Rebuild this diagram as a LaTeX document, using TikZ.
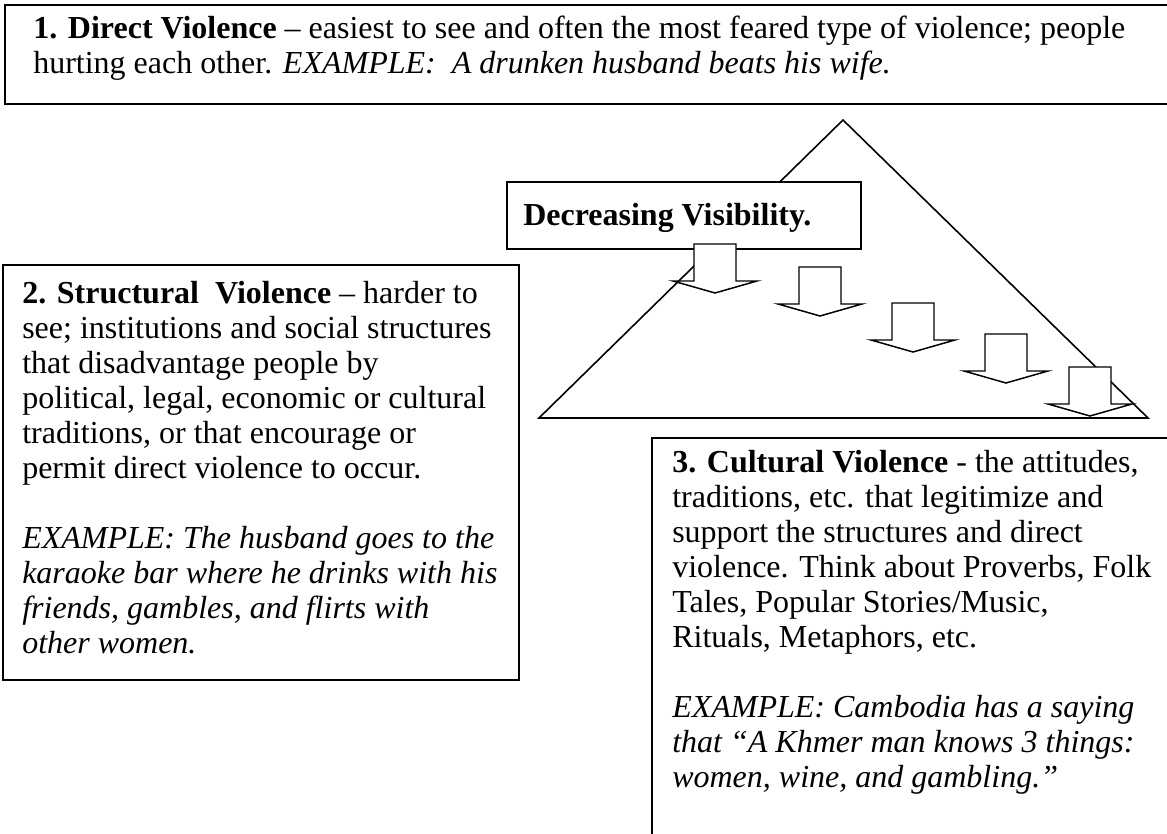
\documentclass[tikz,border=0pt]{standalone}
\usepackage{fontspec}
\setmainfont{Liberation Serif}
\usepackage{tikz}
\usetikzlibrary{positioning}
\tikzset{
  box/.style={draw, line width=1.3pt, fill=white},
  txt/.style={anchor=north west, align=left, inner sep=0pt, font=\fontsize{24}{26.25}\selectfont},
  downarrow/.style={draw, line width=1.1pt, fill=white, line join=miter}
}

\begin{document}
\begin{tikzpicture}[x=0.75pt, y=-0.75pt]
\useasboundingbox (0,0) rectangle (1167,834);
\clip (0,0) rectangle (1167,834);
\draw[box] (5,5) rectangle (1190,104);
\node[txt] (direct) at (33,13.5) {\strut\textbf{1. Direct Violence} -- easiest to see and often the most feared type of violence; people\\hurting each other. \textit{EXAMPLE:\ \ A drunken husband beats his wife.}};
\draw[line width=1.2pt] (843,120)--(539,418)--(1148,418)--cycle;
\draw[box] (507,182) rectangle (861,249);
\node[txt, anchor=base west] (visib) at (523,226) {\textbf{Decreasing Visibility.}};
\foreach \x/\y in {715/244, 820/267, 913/303, 1006/334, 1090/367}
	\draw[downarrow] (\x-21,\y)--(\x+21,\y)--(\x+21,\y+37)--(\x+42,\y+37)--(\x,\y+49)--(\x-42,\y+37)--(\x-21,\y+37)--cycle;
\draw[box] (3,265) rectangle (519,680);
\node[txt] (struct) at (22,278.5) {\strut\textbf{2. Structural\ \ Violence} -- harder to\\see; institutions and social structures\\that disadvantage people by\\political, legal, economic or cultural\\traditions, or that encourage or\\permit direct violence to occur.\\[26.25pt]\textit{EXAMPLE: The husband goes to the}\\\textit{karaoke bar where he drinks with his}\\\textit{friends, gambles, and flirts with}\\\textit{other women.}};
\draw[box] (652,438) rectangle (1190,860);
\node[txt] (cult) at (672,447.5) {\strut\textbf{3. Cultural Violence} - the attitudes,\\traditions, etc. that legitimize and\\support the structures and direct\\violence. Think about Proverbs, Folk\\Tales, Popular Stories/Music,\\Rituals, Metaphors, etc.\\[26.25pt]\textit{EXAMPLE: Cambodia has a saying}\\\textit{that “A Khmer man knows 3 things:}\\\textit{women, wine, and gambling.”}};
\end{tikzpicture}
\end{document}
